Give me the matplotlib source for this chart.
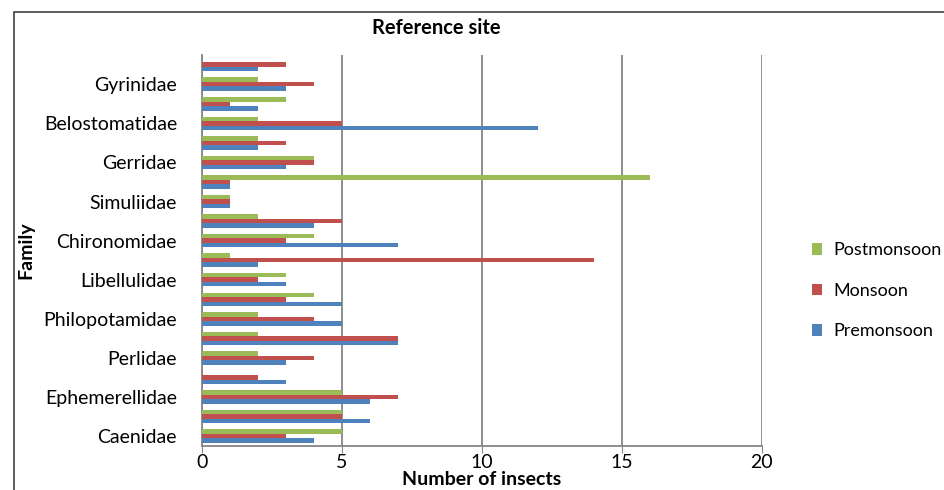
import numpy as np
import matplotlib.pyplot as plt
from matplotlib.patches import Rectangle

# families from bottom to top (Excel shows only every other label)
families = ['Caenidae', '', 'Ephemerellidae', '', 'Perlidae', '', 'Philopotamidae', '',
            'Libellulidae', '', 'Chironomidae', '', 'Simuliidae', '', 'Gerridae', '',
            'Belostomatidae', '', 'Gyrinidae', '']
premonsoon = [4, 6, 6, 3, 3, 7, 5, 5, 3, 2, 7, 4, 1, 1, 3, 2, 12, 2, 3, 2]
monsoon = [3, 5, 7, 2, 4, 7, 4, 3, 2, 14, 3, 5, 1, 1, 4, 3, 5, 1, 4, 3]
postmonsoon = [5, 5, 5, 0, 2, 2, 2, 4, 3, 1, 4, 2, 1, 16, 4, 2, 2, 3, 2, 0]

plt.rcParams['font.family'] = ['Lato', 'DejaVu Sans']

fig = plt.figure(figsize=(9.44, 4.90), dpi=100)
ax = fig.add_axes([0.214, 0.09, 0.593, 0.798])

# outer chart frame (cut off on the right and bottom like the original)
fig.patches.append(Rectangle((14 / 944, -0.1), 2.0, 1 - 12 / 490 + 0.1, transform=fig.transFigure,
                             fill=False, edgecolor='#404040', linewidth=1.2))

y = np.arange(len(families))
h = 0.23
ax.barh(y - h, premonsoon, height=h, color='#4F81BD', label='Premonsoon', zorder=3)
ax.barh(y, monsoon, height=h, color='#C0504D', label='Monsoon', zorder=3)
ax.barh(y + h, postmonsoon, height=h, color='#9BBB59', label='Postmonsoon', zorder=3)

ax.set_xlim(0, 20)
ax.set_ylim(-0.5, 19.5)
ax.set_xticks([0, 5, 10, 15, 20])
ax.tick_params(axis='x', direction='out', length=5, color='#868686', labelsize=14, pad=1)
ax.set_yticks(y[::2])
ax.set_yticklabels(families[::2], fontsize=14)
ax.tick_params(axis='y', length=0, pad=18)
ax.grid(axis='x', color='#868686', linewidth=1.3, zorder=0)

for s in ['top', 'right']:
    ax.spines[s].set_visible(False)
for s in ['left', 'bottom']:
    ax.spines[s].set_color('#868686')
    ax.spines[s].set_linewidth(1.3)

fig.text(436 / 944, 1 - 28 / 490, 'Reference site', fontsize=14.5, fontweight='bold',
         ha='center', va='center')
ax.set_xlabel('Number of insects', fontsize=14, fontweight='bold', labelpad=0)
ax.set_ylabel('Family', fontsize=14, fontweight='bold')
ax.yaxis.set_label_coords(-0.30, 0.5)

handles, labels = ax.get_legend_handles_labels()
leg = fig.legend(handles[::-1], labels[::-1], loc='upper left', bbox_to_anchor=(0.852, 0.52),
                 frameon=False, fontsize=13, handlelength=0.6, handleheight=0.6,
                 handletextpad=0.6, labelspacing=1.35, borderaxespad=0)

plt.savefig('out.png', dpi=100)
